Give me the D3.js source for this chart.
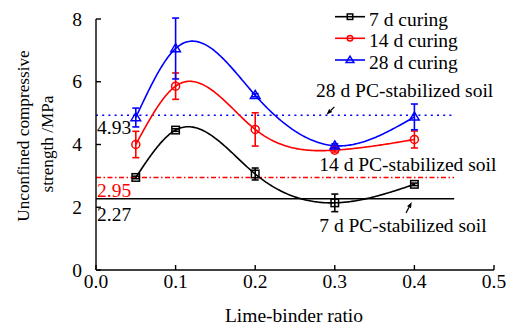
<!DOCTYPE html>
<html>
<head>
<meta charset="utf-8">
<script src="https://cdn.jsdelivr.net/npm/d3@7"></script>
<style>
  html, body { margin: 0; padding: 0; background: #fff; }
  svg { display: block; }
  text { font-family: "Liberation Serif", "Times New Roman", serif; }
</style>
</head>
<body>
<svg id="chart" width="511" height="329"></svg>
<script>
// Lime-binder ratio of each mix
const ratios = [0.05, 0.1, 0.2, 0.3, 0.4];

// Mean unconfined compressive strength (MPa) and error half-widths
const ucs7 = [2.95, 4.46, 3.06, 2.14, 2.73];
const err7 = [0.04, 0.04, 0.19, 0.28, 0.04];
const ucs14 = [4.0, 5.86, 4.48, 3.82, 4.16];
const err14 = [0.42, 0.42, 0.53, 0.06, 0.27];
const ucs28 = [4.86, 7.06, 5.57, 3.96, 4.88];
const err28 = [0.30, 0.97, 0.05, 0.06, 0.41];

// Reference strengths of PC-stabilized soil
const pcLabels = ["28 d PC-stabilized soil", "14 d PC-stabilized soil", "7 d PC-stabilized soil"];
const pcValues = [4.93, 2.95, 2.27];

const xTicks = [0.0, 0.1, 0.2, 0.3, 0.4, 0.5];
const yTicks = [0, 2, 4, 6, 8];
const seriesNames = ["7 d curing", "14 d curing", "28 d curing"];

const svg = d3.select("#chart");
const FS = 19.5;

const x = d3.scaleLinear().domain([0, 0.5]).range([96, 494]);
const y = d3.scaleLinear().domain([0, 8]).range([270, 19]);

// Natural cubic spline through (xs, ys), sampled densely
function naturalSpline(xs, ys, steps) {
  const n = xs.length - 1;
  const h = d3.range(n).map(i => xs[i + 1] - xs[i]);
  const a = new Array(n + 1).fill(0), b = new Array(n + 1).fill(0),
        c = new Array(n + 1).fill(0), r = new Array(n + 1).fill(0);
  b[0] = 1; b[n] = 1;
  for (let i = 1; i < n; i++) {
    a[i] = h[i - 1];
    b[i] = 2 * (h[i - 1] + h[i]);
    c[i] = h[i];
    r[i] = 6 * ((ys[i + 1] - ys[i]) / h[i] - (ys[i] - ys[i - 1]) / h[i - 1]);
  }
  // Thomas algorithm
  const cp = new Array(n + 1).fill(0), rp = new Array(n + 1).fill(0);
  cp[0] = c[0] / b[0]; rp[0] = r[0] / b[0];
  for (let i = 1; i <= n; i++) {
    const m = b[i] - a[i] * cp[i - 1];
    cp[i] = c[i] / m;
    rp[i] = (r[i] - a[i] * rp[i - 1]) / m;
  }
  const M = new Array(n + 1).fill(0);
  M[n] = rp[n];
  for (let i = n - 1; i >= 0; i--) M[i] = rp[i] - cp[i] * M[i + 1];
  const out = [];
  for (let i = 0; i < n; i++) {
    for (let k = 0; k < steps; k++) {
      const t = xs[i] + (h[i] * k) / steps;
      const A = (xs[i + 1] - t) / h[i], B = (t - xs[i]) / h[i];
      const v = A * ys[i] + B * ys[i + 1] +
        ((A * A * A - A) * M[i] + (B * B * B - B) * M[i + 1]) * h[i] * h[i] / 6;
      out.push([t, v]);
    }
  }
  out.push([xs[n], ys[n]]);
  return out;
}

const series = [
  { name: seriesNames[0], vals: ucs7, errs: err7, color: "#000000", marker: "square" },
  { name: seriesNames[1], vals: ucs14, errs: err14, color: "#ff0000", marker: "circle" },
  { name: seriesNames[2], vals: ucs28, errs: err28, color: "#0000ff", marker: "triangle" }
];

function drawMarker(g, kind, cx, cy, color, s) {
  if (kind === "square") {
    g.append("rect").attr("x", cx - s / 2).attr("y", cy - s / 2)
      .attr("width", s).attr("height", s)
      .attr("fill", "none").attr("stroke", color).attr("stroke-width", 1.5);
  } else if (kind === "circle") {
    g.append("circle").attr("cx", cx).attr("cy", cy).attr("r", s / 2)
      .attr("fill", "none").attr("stroke", color).attr("stroke-width", 1.5);
  } else {
    const w = s * 1.2, hh = s;
    g.append("path")
      .attr("d", `M${cx},${cy - hh * 0.6}L${cx + w / 2},${cy + hh * 0.4}L${cx - w / 2},${cy + hh * 0.4}Z`)
      .attr("fill", "none").attr("stroke", color).attr("stroke-width", 1.5);
  }
}

// Reference lines for PC-stabilized soil
const refStyles = [
  { color: "#0000ff", dash: "2,4.2", width: 1.6 },
  { color: "#ff0000", dash: "5,2.5,1.5,2.5", width: 1.4 },
  { color: "#000000", dash: null, width: 1.4 }
];
pcValues.forEach((v, i) => {
  const st = refStyles[i];
  svg.append("line")
    .attr("x1", x(0)).attr("x2", x(0.45))
    .attr("y1", y(v)).attr("y2", y(v))
    .attr("stroke", st.color).attr("stroke-width", st.width)
    .attr("stroke-dasharray", st.dash);
});

// Value labels under the reference lines
const valueColors = ["#000000", "#ff0000", "#000000"];
const valueOffsets = [19, 19.5, 22];
pcValues.forEach((v, i) => {
  svg.append("text").attr("x", x(0) + 1).attr("y", y(v) + valueOffsets[i])
    .attr("font-size", FS).attr("fill", valueColors[i])
    .text(d3.format(".2f")(v));
});

// Smoothed curves
const line = d3.line().x(d => x(d[0])).y(d => y(d[1]));
series.forEach(s => {
  svg.append("path")
    .attr("d", line(naturalSpline(ratios, s.vals, 60)))
    .attr("fill", "none").attr("stroke", s.color).attr("stroke-width", 1.6);
});

// Error bars and markers
series.forEach(s => {
  const g = svg.append("g");
  ratios.forEach((r, i) => {
    const cx = x(r), top = y(s.vals[i] + s.errs[i]), bot = y(s.vals[i] - s.errs[i]);
    g.append("line").attr("x1", cx).attr("x2", cx).attr("y1", top).attr("y2", bot)
      .attr("stroke", s.color).attr("stroke-width", 1.6);
    [top, bot].forEach(yy => g.append("line")
      .attr("x1", cx - 3.5).attr("x2", cx + 3.5).attr("y1", yy).attr("y2", yy)
      .attr("stroke", s.color).attr("stroke-width", 1.6));
    const size = s.marker === "square" ? 7.5 : s.marker === "circle" ? 8 : 8;
    drawMarker(g, s.marker, cx, y(s.vals[i]), s.color, size);
  });
});

// Axes
const axes = svg.append("g").attr("stroke", "#000").attr("stroke-width", 1.4);
axes.append("line").attr("x1", x(0)).attr("x2", x(0.5)).attr("y1", y(0)).attr("y2", y(0));
axes.append("line").attr("x1", x(0)).attr("x2", x(0)).attr("y1", y(0)).attr("y2", y(8));
xTicks.forEach(t => {
  axes.append("line").attr("x1", x(t)).attr("x2", x(t)).attr("y1", y(0)).attr("y2", y(0) - 5);
  svg.append("text").attr("x", x(t)).attr("y", 288).attr("text-anchor", "middle")
    .attr("font-size", FS).text(d3.format(".1f")(t));
});
yTicks.forEach(t => {
  axes.append("line").attr("x1", x(0)).attr("x2", x(0) + 5).attr("y1", y(t)).attr("y2", y(t));
  svg.append("text").attr("x", 82).attr("y", y(t) + 6.5).attr("text-anchor", "end")
    .attr("font-size", FS).text(t);
});

// Axis titles
svg.append("text").attr("x", 294).attr("y", 322).attr("text-anchor", "middle")
  .attr("font-size", FS).text("Lime-binder ratio");
svg.append("text").attr("transform", "translate(29,136) rotate(-90)")
  .attr("text-anchor", "middle").attr("font-size", 17.2).text("Unconfined compressive");
svg.append("text").attr("transform", "translate(53,144) rotate(-90)")
  .attr("text-anchor", "middle").attr("font-size", 17.2).text("strength /MPa");

// Annotations for the reference lines
const annX = [0.2765, 0.2805, 0.2805];
const annY = [5.52, 3.155, 1.2];
pcLabels.forEach((t, i) => {
  svg.append("text").attr("x", x(annX[i])).attr("y", y(annY[i]))
    .attr("font-size", FS).text(t);
});

// Pointer arrows (start -> tip, in data units)
const arrows = [
  [[0.2995, 5.2], [0.2895, 4.95]],
  [[0.3895, 1.82], [0.3967, 2.17]]
];
arrows.forEach(([p0, p1]) => {
  const x0 = x(p0[0]), y0 = y(p0[1]), x1 = x(p1[0]), y1 = y(p1[1]);
  const ang = Math.atan2(y1 - y0, x1 - x0);
  const L = 6, W = 2.2;
  const bx = x1 - L * Math.cos(ang), by = y1 - L * Math.sin(ang);
  svg.append("line").attr("x1", x0).attr("y1", y0).attr("x2", bx).attr("y2", by)
    .attr("stroke", "#000").attr("stroke-width", 1.2);
  svg.append("path")
    .attr("d", `M${x1},${y1}L${bx - W * Math.sin(ang)},${by + W * Math.cos(ang)}L${bx + W * Math.sin(ang)},${by - W * Math.cos(ang)}Z`)
    .attr("fill", "#000");
});

// Legend
const legY = [16.7, 38.3, 60];
series.forEach((s, i) => {
  const g = svg.append("g");
  g.append("line").attr("x1", 335).attr("x2", 365).attr("y1", legY[i]).attr("y2", legY[i])
    .attr("stroke", s.color).attr("stroke-width", 1.6);
  drawMarker(g, s.marker, 350, legY[i], s.color, s.marker === "triangle" ? 6.5 : 5.5);
  g.append("text").attr("x", 369).attr("y", legY[i] + 8.8)
    .attr("font-size", FS).text(s.name);
});
</script>
</body>
</html>
